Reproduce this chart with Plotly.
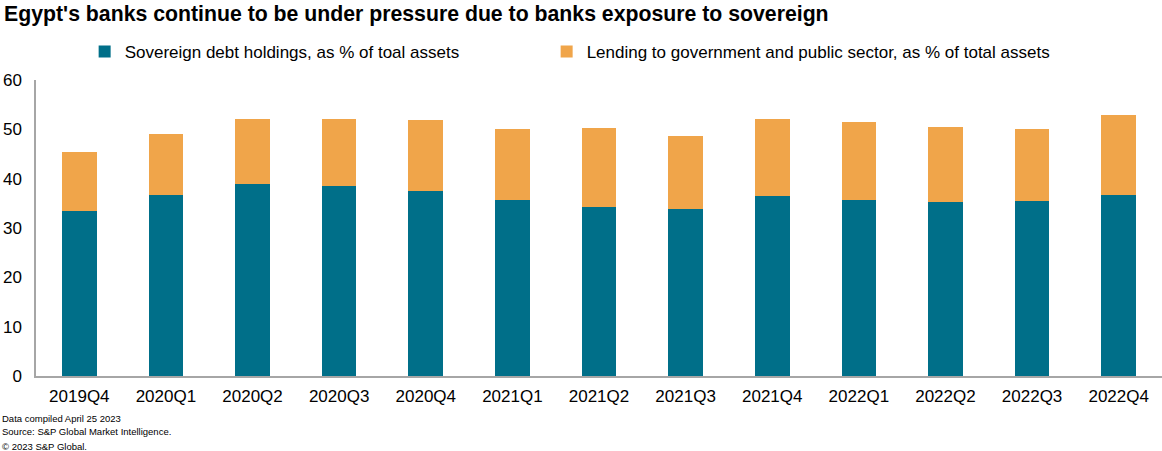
import plotly.graph_objects as go

quarters = ["2019Q4", "2020Q1", "2020Q2", "2020Q3", "2020Q4", "2021Q1", "2021Q2",
            "2021Q3", "2021Q4", "2022Q1", "2022Q2", "2022Q3", "2022Q4"]
sovereign = [33.4, 36.7, 38.9, 38.5, 37.5, 35.7, 34.3, 33.9, 36.5, 35.7, 35.3, 35.5, 36.7]
total = [45.4, 49.1, 52.1, 52.1, 51.9, 50.1, 50.3, 48.7, 52.1, 51.5, 50.5, 50.1, 52.9]
lending = [round(t - s, 1) for t, s in zip(total, sovereign)]
footer_lines = ["Data compiled April 25 2023", "Source: S&P Global Market Intelligence.", "© 2023 S&P Global."]

TEAL = "#006F89"
ORANGE = "#F0A54A"
FONT = "Liberation Sans, Arial, sans-serif"

fig = go.Figure()
fig.add_trace(go.Bar(x=quarters, y=sovereign, name="Sovereign debt holdings, as % of toal assets",
                     marker=dict(color=TEAL, line=dict(width=0)), legend="legend"))
fig.add_trace(go.Bar(x=quarters, y=lending, name="Lending to government and public sector, as % of total assets",
                     marker=dict(color=ORANGE, line=dict(width=0)), legend="legend2"))

legend_common = dict(orientation="h", xanchor="left", y=0.8847, yanchor="middle", yref="container",
                     font=dict(family=FONT, size=17, color="#000000"),
                     itemwidth=30, bgcolor="rgba(0,0,0,0)")

fig.update_layout(
    barmode="stack",
    bargap=0.6,
    width=1162, height=451,
    margin=dict(l=36, r=0, t=80, b=75, autoexpand=False),
    paper_bgcolor="white", plot_bgcolor="white",
    font=dict(family=FONT, size=17, color="#000000"),
    title=dict(text="<b>Egypt's banks continue to be under pressure due to banks exposure to sovereign</b>",
               x=0.0035, xanchor="left", y=0.970, yanchor="middle",
               font=dict(family=FONT, size=21.25, color="#000000")),
    legend=dict(x=0.0432, **legend_common),
    legend2=dict(x=0.0432 + 462 / 1126, **legend_common),
    showlegend=True,
)
fig.update_xaxes(showline=True, linecolor="#A6A6A6", linewidth=1.5, ticks="", showgrid=False,
                 tickfont=dict(size=17), automargin=False, ticklabelstandoff=4)
fig.update_yaxes(range=[0, 60], dtick=10, showline=True, linecolor="#A6A6A6", linewidth=1.5,
                 showgrid=False, zeroline=False, ticks="", tickfont=dict(size=17),
                 ticklabelstandoff=9, automargin=False)

footer_y = [-0.1419, -0.1875, -0.2365]
for line, yy in zip(footer_lines, footer_y):
    fig.add_annotation(text=line, xref="paper", yref="paper", x=-0.032, y=yy, xanchor="left",
                       yanchor="middle", showarrow=False, align="left",
                       font=dict(family=FONT, size=9.5, color="#000000"))

fig.write_html("out.html", config={"displayModeBar": False},
               post_script="document.body.style.margin='0';")
